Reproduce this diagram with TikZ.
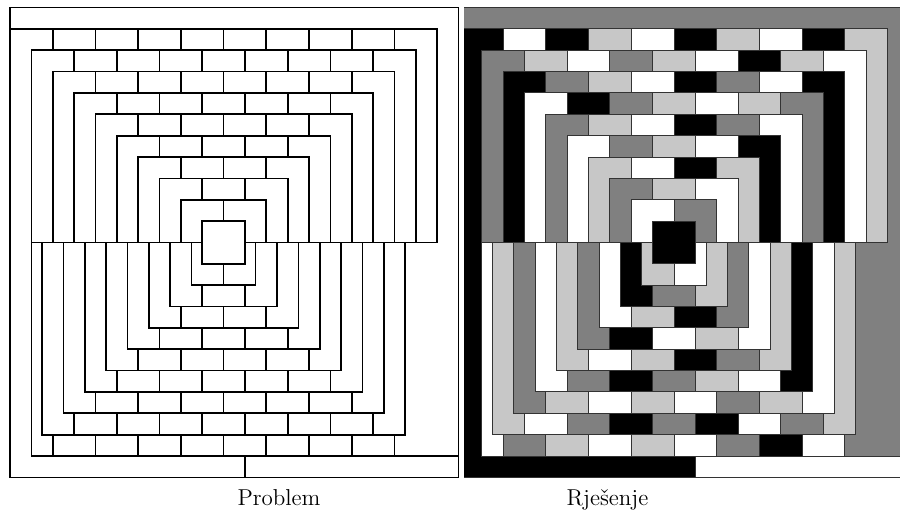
\documentclass[tikz,border=0pt]{standalone}

% colores del mosaico
\colorlet{n}{black}
\colorlet{b}{white}
\definecolor{c}{gray}{0.78}
\definecolor{o}{gray}{0.5}

\newcommand{\mosaico}{%
  % borde exterior
  \path[pieza=o] (0,0) -- (21,0) -- (21,21) -- (18,21) -- (18,20) -- (18.5,20) -- (18.5,11) -- (20,11) -- (20,1) -- (0,1) -- cycle;
  \path[pieza=n] (0,1) -- (2,1) -- (2,2) -- (1,2) -- (1,21) -- (11,21) -- (11,22) -- (0,22) -- cycle;
  \path[pieza=b] (11,21) rectangle (21,22);
  % mitad superior
  \foreach \fila/\col in {2/o,3/n,4/b,5/o,6/b,7/c,8/o,9/b}
    \path[pieza=\col] (\fila-1,\fila) -- (\fila+1,\fila) -- (\fila+1,\fila+1) -- (\fila,\fila+1) -- (\fila,11) -- (\fila-1,11) -- cycle;
  \foreach \fila/\col in {1/c,2/b,3/n,4/o,5/b,6/n,7/c,8/b,9/o}
    \path[pieza=\col] (19-\fila,\fila) -- (21-\fila,\fila) -- (21-\fila,11) -- (20-\fila,11) -- (20-\fila,\fila+1) -- (19-\fila,\fila+1) -- cycle;
  \foreach \fila/\lista in {1/{b,n,c,b,n,c,b,n},2/{c,b,o,c,b,n,c},3/{o,c,b,n,o,b},4/{n,o,c,b,c},5/{c,b,n,o},6/{o,c,b},7/{b,n},8/{c}}
    \foreach \col [count=\idx] in \lista
      \path[pieza=\col] ({\fila+2*\idx-1},\fila) rectangle ++(2,1);
  % centro
  \path[pieza=n] (9,10) rectangle (11,12);
  % mitad inferior
  \foreach \fila/\col in {12/c,13/n,14/b,15/o,16/c,17/b,18/o,19/c,20/b} {
    \pgfmathsetmacro\izq{max(20.5-\fila,1)}
    \pgfmathsetmacro\der{min(21.5-\fila,9)}
    \path[pieza=\col] (\izq,11) -- (\der,11) -- (\der,\fila) -- (22-\fila,\fila) -- (22-\fila,\fila+1) -- (\izq,\fila+1) -- cycle;
  }
  \foreach \fila/\col in {12/b,13/c,14/o,15/b,16/c,17/n,18/b,19/c} {
    \pgfmathsetmacro\izq{max(\fila-1.5,11)}
    \path[pieza=\col] (\izq,11) -- (\fila-0.5,11) -- (\fila-0.5,\fila+1) -- (\fila-2,\fila+1) -- (\fila-2,\fila) -- (\izq,\fila) -- cycle;
  }
  \foreach \fila/\lista in {13/{o},14/{c,n},15/{n,b,c},16/{b,c,n,o},17/{o,n,o,c,b},18/{c,b,c,b,o,c},19/{b,o,n,o,n,b,o},20/{o,c,b,c,b,o,n,b}}
    \foreach \col [count=\idx] in \lista
      \path[pieza=\col] ({20-\fila+2*\idx},\fila) rectangle ++(2,1);
}

\begin{document}
\begin{tikzpicture}[x=0.5pt, y=-0.5pt]
  \useasboundingbox (0,0) rectangle (900,518);

  % Problema
  \begin{scope}[shift={(5pt,-3.75pt)}, x=10.68pt, y=-10.68pt,
      pieza/.style={draw=black, line width=0.85pt}]
    \mosaico
  \end{scope}

  % Solucion
  \begin{scope}
    \clip (464,0) rectangle (900,518);
    \begin{scope}[shift={(230.2pt,-3.75pt)}, x=10.68pt, y=-10.68pt,
        pieza/.style={fill=#1, draw=black!80, line width=0.5pt}]
      \mosaico
    \end{scope}
  \end{scope}

  % Etiquetas
  \node[anchor=base, font=\fontsize{11.5}{13}\selectfont] (problema) at (279,505) {Problem};
  \node[anchor=base, font=\fontsize{11.5}{13}\selectfont] (rjesenje) at (607.5,505) {Rješenje};
\end{tikzpicture}
\end{document}
